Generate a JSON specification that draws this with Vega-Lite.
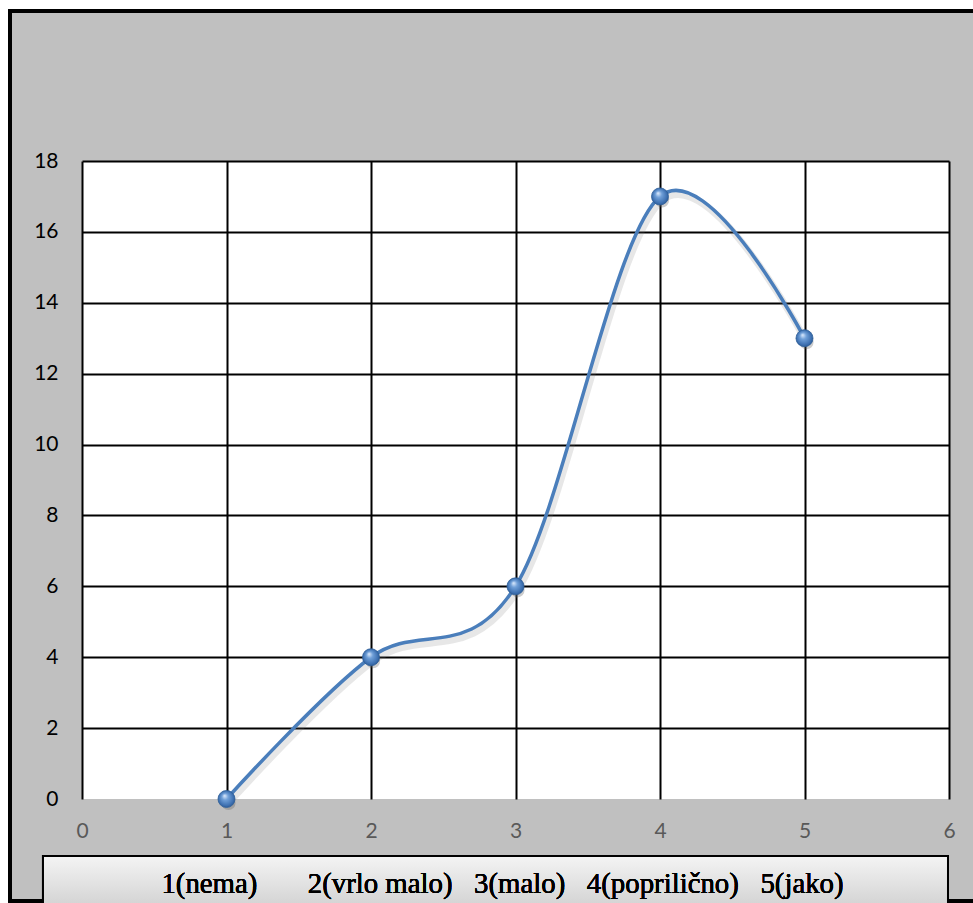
{
  "$schema": "https://vega.github.io/schema/vega-lite/v6.json",
  "width": 867,
  "height": 638,
  "autosize": {"type": "none"},
  "padding": {"left": 82, "top": 161, "right": 24, "bottom": 104},
  "background": "#c0c0c0",
  "config": {
    "view": {"fill": "white", "stroke": null},
    "font": "Lato"
  },
  "data": {
    "values": [
      {"ocjena": 1, "broj": 0},
      {"ocjena": 2, "broj": 4},
      {"ocjena": 3, "broj": 6},
      {"ocjena": 4, "broj": 17},
      {"ocjena": 5, "broj": 13}
    ]
  },
  "encoding": {
    "x": {
      "field": "ocjena", "type": "quantitative",
      "scale": {"domain": [0, 6], "nice": false, "zero": false},
      "axis": {
        "title": null, "values": [0, 1, 2, 3, 4, 5, 6], "domain": false, "ticks": false, "tickSize": 0,
        "labelFlush": false, "labelOverlap": false,
        "labelPadding": 21, "labelFontSize": 21, "labelColor": "#595959", "labelFont": "Lato",
        "grid": true, "gridColor": "black", "gridWidth": 2, "gridOpacity": 1
      }
    },
    "y": {
      "field": "broj", "type": "quantitative",
      "scale": {"domain": [0, 18], "nice": false},
      "axis": {
        "title": null, "values": [0, 2, 4, 6, 8, 10, 12, 14, 16, 18], "domain": false, "ticks": false, "tickSize": 0,
        "labelFlush": false, "labelOverlap": false,
        "labelPadding": 24, "labelFontSize": 21, "labelColor": "black", "labelFont": "Lato",
        "grid": true, "gridColor": "black", "gridWidth": 2,
        "gridOpacity": {"condition": {"test": "datum.value === 0", "value": 0}, "value": 1}
      }
    }
  },
  "layer": [
    {
      "mark": {"type": "rect", "clip": false, "fill": null, "stroke": "white", "strokeWidth": 18},
      "encoding": {
        "x": {"datum": -0.5675}, "x2": {"datum": 6.5},
        "y": {"datum": 22.54}, "y2": {"datum": -4}
      }
    },
    {
      "mark": {"type": "rect", "clip": false, "fill": null, "stroke": "black", "strokeWidth": 3.5},
      "encoding": {
        "x": {"datum": -0.498}, "x2": {"datum": 6.3},
        "y": {"datum": 22.23}, "y2": {"datum": -2.878}
      }
    },
    {
      "mark": {
        "type": "rect", "clip": false, "stroke": "black", "strokeWidth": 2,
        "fill": {"gradient": "linear", "x1": 0, "y1": 0, "x2": 0, "y2": 1,
          "stops": [{"offset": 0, "color": "#f4f4f4"}, {"offset": 1, "color": "#cfcfcf"}]}
      },
      "encoding": {
        "x": {"datum": -0.27}, "x2": {"datum": 5.993},
        "y": {"datum": -1.608}, "y2": {"datum": -3.2}
      }
    },
    {
      "mark": {"type": "text", "clip": false, "font": "Liberation Serif", "fontWeight": "normal", "fontSize": 28.8, "color": "black", "align": "center", "baseline": "alphabetic"},
      "encoding": {
        "x": {"datum": 2.91},
        "y": {"datum": -2.652},
        "text": {"value": "1(nema)\u00a0\u00a0\u00a0\u00a0\u00a0\u00a0\u00a02(vrlo malo)\u00a0\u00a0\u00a03(malo)\u00a0\u00a0\u00a04(poprilično)\u00a0\u00a0\u00a05(jako)"}
      }
    },
    {
      "mark": {"type": "line", "interpolate": "cardinal", "color": "#7a7a7a", "opacity": 0.18, "strokeWidth": 7, "xOffset": 2, "yOffset": 4}
    },
    {
      "mark": {"type": "line", "interpolate": "cardinal", "color": "#4a7ebb", "strokeWidth": 3.5}
    },
    {
      "mark": {"type": "point", "filled": true, "shape": "circle", "size": 200, "color": "#555", "opacity": 0.3, "xOffset": 2, "yOffset": 4}
    },
    {
      "mark": {
        "type": "point", "filled": true, "shape": "circle", "size": 290, "opacity": 1,
        "stroke": "#2f5f99", "strokeWidth": 0.8,
        "fill": {"gradient": "radial", "x1": 0.38, "y1": 0.3, "r1": 0, "x2": 0.5, "y2": 0.5, "r2": 0.55,
          "stops": [{"offset": 0, "color": "#e4efff"}, {"offset": 0.35, "color": "#6f9fd8"}, {"offset": 0.8, "color": "#3c6fb0"}, {"offset": 1, "color": "#27538a"}]}
      }
    }
  ]
}
